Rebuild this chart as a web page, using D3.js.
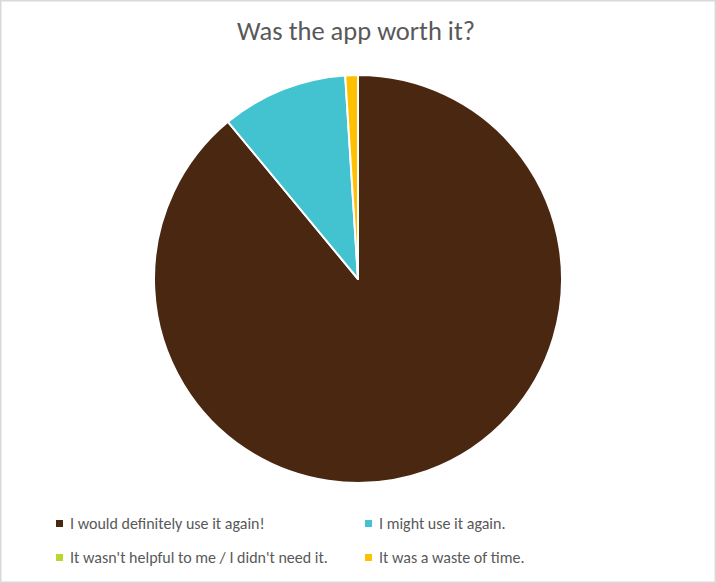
<!DOCTYPE html>
<html>
<head>
<meta charset="utf-8">
<script src="https://cdn.jsdelivr.net/npm/d3@7"></script>
<style>
  body { margin: 0; background: #fff; }
  svg text { font-family: Carlito, Lato, "Open Sans", sans-serif; fill: #595959; }
</style>
</head>
<body>
<svg id="chart" width="716" height="583"></svg>
<script>
// chart data
var categories = [
  "I would definitely use it again!",
  "I might use it again.",
  "It wasn't helpful to me / I didn't need it.",
  "It was a waste of time."
];
var values = [89, 10, 0, 1];
var colors = ["#4a2711", "#43c3cf", "#bcd630", "#ffc000"];
var title = "Was the app worth it?";

var width = 716, height = 583;
var svg = d3.select("#chart");

// outer border
svg.append("rect")
  .attr("x", 0.75).attr("y", 0.75)
  .attr("width", width - 1.5).attr("height", height - 1.5)
  .attr("fill", "#fff")
  .attr("stroke", "#d9d9d9")
  .attr("stroke-width", 1.5);

// title
svg.append("text")
  .attr("x", 356).attr("y", 40)
  .attr("text-anchor", "middle")
  .style("font-size", "26.5px")
  .text(title);

// pie
var cx = 358, cy = 279, r = 204;
var color = d3.scaleOrdinal().domain(categories).range(colors);
var pie = d3.pie().sort(null).value(function(d) { return d.value; });
var arc = d3.arc().innerRadius(0).outerRadius(r);

var data = categories.map(function(c, i) { return {name: c, value: values[i]}; });

var g = svg.append("g").attr("transform", "translate(" + cx + "," + cy + ")");
g.selectAll("path")
  .data(pie(data).filter(function(d) { return d.data.value > 0; }))
  .enter().append("path")
  .attr("d", arc)
  .attr("fill", function(d) { return color(d.data.name); })
  .attr("stroke", "#fff")
  .attr("stroke-width", 2)
  .attr("stroke-linejoin", "round");

// legend, 2 columns
var legendX = [56, 365], legendY = [520, 554];
var legend = svg.append("g");
var items = legend.selectAll("g")
  .data(data)
  .enter().append("g")
  .attr("transform", function(d, i) {
    return "translate(" + legendX[i % 2] + "," + legendY[Math.floor(i / 2)] + ")";
  });
items.append("rect")
  .attr("width", 7).attr("height", 7)
  .attr("fill", function(d) { return color(d.name); });
items.append("text")
  .attr("x", 14).attr("y", 9)
  .style("font-size", "16px")
  .text(function(d) { return d.name; });
</script>
</body>
</html>
